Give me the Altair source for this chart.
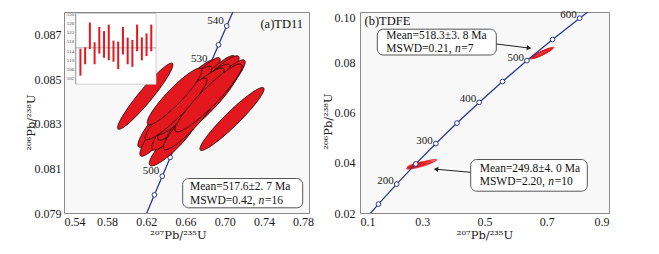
import altair as alt
import numpy as np
import pandas as pd

SERIF = "Liberation Serif"
TSERIF = "DejaVu Serif"
RED = "#e3171e"
NAVY = "#2c3a8c"

# ---------------- Panel (a) TD11 : 16 analyses (centre, half extents, correlation)
a_x = [0.6189, 0.7074, 0.6508, 0.6544, 0.6477, 0.6681, 0.6732, 0.6799,
       0.6697, 0.6554, 0.6641, 0.6783, 0.6503, 0.6646, 0.6834, 0.6488]
a_y = [0.08423, 0.08321, 0.08390, 0.08375, 0.08222, 0.08393, 0.08415, 0.08395,
       0.08424, 0.08437, 0.08399, 0.08377, 0.08366, 0.08310, 0.08415, 0.08422]
a_ex = [0.0282, 0.0327, 0.0394, 0.0410, 0.0247, 0.0426, 0.0415, 0.0410,
        0.0357, 0.0315, 0.0352, 0.0342, 0.0315, 0.0273, 0.0342, 0.0279]
a_ey = [0.00148, 0.00141, 0.00196, 0.00221, 0.00111, 0.00212, 0.00189, 0.00191,
        0.00143, 0.00120, 0.00150, 0.00150, 0.00138, 0.00127, 0.00152, 0.00127]
a_rho = [0.950, 0.950, 0.945, 0.952, 0.900, 0.944, 0.948, 0.948,
         0.940, 0.925, 0.930, 0.930, 0.935, 0.920, 0.932, 0.922]

# concordia (a): age (Ma), 207Pb/235U, 206Pb/238U
ca_age = [485, 490, 495, 500, 505, 510, 515, 520, 525, 530, 535, 540, 545, 550]
ca_x = [0.61228, 0.62025, 0.62824, 0.63628, 0.64436, 0.65248, 0.66063,
        0.66886, 0.67717, 0.68556, 0.69367, 0.70203, 0.71043, 0.71887]
ca_y = [0.078136, 0.078974, 0.079812, 0.080650, 0.081489, 0.082328, 0.083167,
        0.084007, 0.084848, 0.085689, 0.086531, 0.087373, 0.088216, 0.089060]
ca_marked = [495, 500, 505, 510, 515, 520, 525, 530, 535, 540]
ca_labelled = [500, 530, 540]

# inset: weighted mean ages (Ma)
ins_lo = [503.2, 508.1, 514.7, 508.1, 512.7, 510.9, 509.8, 509.2,
          506.0, 512.3, 508.1, 507.0, 513.7, 509.8, 511.6, 513.7]
ins_hi = [514.8, 515.4, 526.1, 517.6, 524.2, 522.4, 525.2, 518.3,
          517.9, 524.2, 519.6, 518.6, 525.2, 519.7, 521.4, 525.2]
ins_mean = 515.2
ins_ticks = [502, 506, 510, 514, 518, 522, 526, 530]

# ---------------- Panel (b) TDFE
b_x = [0.680, 0.684, 0.688, 0.676, 0.690, 0.682, 0.686,
       0.272, 0.278, 0.285, 0.300, 0.268, 0.292, 0.305, 0.276, 0.282, 0.295]
b_y = [0.0834, 0.0836, 0.0838, 0.0831, 0.0840, 0.0833, 0.0837,
       0.0386, 0.0389, 0.0391, 0.0396, 0.0384, 0.0393, 0.0398, 0.0392, 0.0387, 0.0390]
b_ex = [0.034, 0.032, 0.030, 0.028, 0.033, 0.026, 0.036,
        0.022, 0.020, 0.030, 0.045, 0.018, 0.035, 0.042, 0.024, 0.026, 0.038]
b_ey = [0.0021, 0.0019, 0.0018, 0.0017, 0.0020, 0.0016, 0.0022,
        0.0010, 0.0009, 0.0012, 0.0016, 0.0009, 0.0013, 0.0015, 0.0011, 0.0010, 0.0014]
b_rho = [0.92, 0.93, 0.92, 0.91, 0.94, 0.89, 0.94,
         0.82, 0.78, 0.86, 0.90, 0.78, 0.88, 0.91, 0.83, 0.84, 0.88]

cb_age = [100, 150, 200, 250, 300, 350, 400, 450, 500, 550, 600, 650]
cb_x = [0.10350, 0.15920, 0.21771, 0.27917, 0.34374, 0.41156,
        0.48281, 0.55766, 0.63628, 0.71887, 0.80563, 0.89677]
cb_y = [0.015633, 0.023542, 0.031511, 0.039543, 0.047637, 0.055795,
        0.064016, 0.072300, 0.080650, 0.089064, 0.097544, 0.106089]
cb_marked = [150, 200, 250, 300, 350, 400, 450, 500, 550, 600]
cb_labelled = [200, 300, 400, 500, 600]


def ellipse_table(cx, cy, ex, ey, rho, n=60):
    rows = []
    phi = np.linspace(0, np.pi, n)
    u = np.cos(phi)
    s = np.sqrt(np.clip(1 - u ** 2, 0, None))
    for i, (x0, y0, a, b, r) in enumerate(zip(cx, cy, ex, ey, rho)):
        q = np.sqrt(1 - r ** 2)
        for uu, ss in zip(u, s):
            rows.append({"id": i, "x": x0 + a * uu,
                         "ylo": y0 + b * (r * uu - q * ss),
                         "yhi": y0 + b * (r * uu + q * ss)})
    return pd.DataFrame(rows)


def conc_table(age, x, y):
    return pd.DataFrame({"age": age, "x": x, "y": y, "lab": [str(v) for v in age]})


FS = 11.5


def txt(s, x, y, size=FS, style="normal", align="left"):
    return alt.Chart(pd.DataFrame({"t": [s]})).mark_text(
        align=align, baseline="middle", font=SERIF, fontSize=size, fontStyle=style, color="#111").encode(
        x=alt.value(x), y=alt.value(y), text="t:N")


def stat_lines(x, y, line1, line2, n):
    # "MSWD=..., n=.." with an italic n
    return [txt(line1, x, y), txt(line2, x, y + 13.2),
            txt("n", x + 68.6, y + 13.2, style="italic"), txt("=" + n, x + 75.0, y + 13.2)]


def rbox(x0, x1, y0, y1):
    return alt.Chart(pd.DataFrame({"k": [0]})).mark_rect(
        fill="white", stroke="#555", strokeWidth=1, cornerRadius=6).encode(
        x=alt.value(x0), x2=alt.value(x1), y=alt.value(y0), y2=alt.value(y1))


# ======================= Panel (a)
xa = alt.Scale(domain=[0.536, 0.786], nice=False, zero=False)
ya = alt.Scale(domain=[0.079, 0.088], nice=False, zero=False)
axa_x = alt.Axis(values=[0.54, 0.58, 0.62, 0.66, 0.70, 0.74, 0.78], format=".2f",
                 title="²⁰⁷Pb/²³⁵U", labelFlush=4.5, labelFlushOffset=4,
                 labelPadding=3, titlePadding=2, titleX=114)
axa_y = alt.Axis(values=[0.079, 0.081, 0.083, 0.085, 0.087], format=".3f",
                 title="²⁰⁶Pb/²³⁸U", labelPadding=3, titlePadding=-2, titleY=110)
XA = lambda f: alt.X(f, scale=xa, axis=axa_x)
YA = lambda f: alt.Y(f, scale=ya, axis=axa_y)

conc_a = conc_table(ca_age, ca_x, ca_y)
line_a = alt.Chart(conc_a).mark_line(color=NAVY, strokeWidth=1.3, clip=True).encode(
    x=XA("x:Q"), y=YA("y:Q"), order="age:Q")
pts_a = alt.Chart(conc_a).transform_filter(
    alt.FieldOneOfPredicate(field="age", oneOf=ca_marked)).mark_point(
    shape="circle", size=22, filled=True, fill="white", stroke=NAVY, strokeWidth=1, opacity=1).encode(
    x=XA("x:Q"), y=YA("y:Q"))
lab_a = alt.Chart(conc_a).transform_filter(
    alt.FieldOneOfPredicate(field="age", oneOf=ca_labelled)).mark_text(
    align="right", baseline="middle", dx=-3, dy=-5, font=SERIF, fontSize=11, color="#222").encode(
    x=XA("x:Q"), y=YA("y:Q"), text="lab:N")
ell_a = alt.Chart(ellipse_table(a_x, a_y, a_ex, a_ey, a_rho)).mark_area(
    fill=RED, fillOpacity=1, stroke="#2b0708", strokeWidth=0.9).encode(
    x=XA("x:Q"), y=YA("yhi:Q"), y2="ylo:Q", detail="id:N")

ann_a = [rbox(118.7, 238.7, 166.5, 195.8),
         *stat_lines(126, 175.3, "Mean=517.6±2. 7 Ma", "MSWD=0.42,", "16"),
         txt("(a)TD11", 239, 12, size=12.5, align="right")]

main_a = alt.layer(line_a, pts_a, lab_a, ell_a, *ann_a)

# inset (independent scales placed in the top-left corner)
ix = alt.Scale(domain=[0, 17], range=[11.7, 92])
iy = alt.Scale(domain=[499.5, 530], range=[72.2, 1.5])
IX = lambda f: alt.X(f, scale=ix, axis=None)
IY = lambda f: alt.Y(f, scale=iy, axis=None)
ins_df = pd.DataFrame({"i": list(range(1, 17)), "lo": ins_lo, "hi": ins_hi})
ins_box = alt.Chart(pd.DataFrame({"x0": [0], "x1": [17], "y0": [499.5], "y1": [530]})).mark_rect(
    fill="white", stroke="#c4c4c4", strokeWidth=0.8).encode(
    x=IX("x0:Q"), x2="x1:Q", y=IY("y0:Q"), y2="y1:Q")
ins_mean_l = alt.Chart(pd.DataFrame({"x0": [0], "x1": [17], "m": [ins_mean]})).mark_rule(
    color="#9a9a9a", strokeWidth=0.8).encode(x=IX("x0:Q"), x2="x1:Q", y=IY("m:Q"))
ins_axis = alt.Chart(pd.DataFrame({"x0": [0], "y0": [499.5], "y1": [530]})).mark_rule(
    color="#8a8a8a", strokeWidth=0.8).encode(x=IX("x0:Q"), y=IY("y0:Q"), y2="y1:Q")
ins_bars = alt.Chart(ins_df).mark_rule(color=RED, strokeWidth=2).encode(
    x=IX("i:Q"), y=IY("lo:Q"), y2="hi:Q")
ins_lab = alt.Chart(pd.DataFrame({"x0": [0] * len(ins_ticks), "v": ins_ticks,
                                  "t": [str(v) for v in ins_ticks]})).mark_text(
    align="right", baseline="middle", dx=-1.5, font=SERIF, fontSize=5, color="#555").encode(
    x=IX("x0:Q"), y=IY("v:Q"), text="t:N")
inset = alt.layer(ins_box, ins_mean_l, ins_axis, ins_bars, ins_lab)

panel_a = alt.layer(main_a, inset).resolve_scale(x="independent", y="independent").properties(
    width=245, height=201)

# ======================= Panel (b)
xb = alt.Scale(domain=[0.1, 0.9], nice=False, zero=False)
yb = alt.Scale(domain=[0.02, 0.10], nice=False, zero=False)
axb_x = alt.Axis(values=[0.1, 0.3, 0.5, 0.7, 0.9], format=".1f", title="²⁰⁷Pb/²³⁵U",
                 labelFlush=True, labelPadding=3, titlePadding=2)
axb_y = alt.Axis(values=[0.02, 0.04, 0.06, 0.08, 0.10], format=".2f", title="²⁰⁶Pb/²³⁸U",
                 labelPadding=5, titlePadding=1, titleY=109,
                 labelOffset={"condition": {"test": "datum.value > 0.099", "value": 5}, "value": 0})
XB = lambda f: alt.X(f, scale=xb, axis=axb_x)
YB = lambda f: alt.Y(f, scale=yb, axis=axb_y)

conc_b = conc_table(cb_age, cb_x, cb_y)
ell_b = alt.Chart(ellipse_table(b_x, b_y, b_ex, b_ey, b_rho)).mark_area(
    fill=RED, fillOpacity=0.22, stroke=RED, strokeWidth=0.7).encode(
    x=XB("x:Q"), y=YB("yhi:Q"), y2="ylo:Q", detail="id:N")
line_b = alt.Chart(conc_b).mark_line(color=NAVY, strokeWidth=1.3, clip=True).encode(
    x=XB("x:Q"), y=YB("y:Q"), order="age:Q")
pts_b = alt.Chart(conc_b).transform_filter(
    alt.FieldOneOfPredicate(field="age", oneOf=cb_marked)).mark_point(
    shape="circle", size=22, filled=True, fill="white", stroke=NAVY, strokeWidth=1, opacity=1).encode(
    x=XB("x:Q"), y=YB("y:Q"))
lab_b = alt.Chart(conc_b).transform_filter(
    alt.FieldOneOfPredicate(field="age", oneOf=cb_labelled)).mark_text(
    align="right", baseline="middle", dx=-3, dy=-3, font=SERIF, fontSize=11, color="#222").encode(
    x=XB("x:Q"), y=YB("y:Q"), text="lab:N")

arr1 = alt.Chart(pd.DataFrame({"k": [0]})).mark_rule(color="#222", strokeWidth=1).encode(
    x=alt.value(136.3), x2=alt.value(168), y=alt.value(32), y2=alt.value(35.9))
head1 = alt.Chart(pd.DataFrame({"k": [0]})).mark_point(
    shape="triangle-right", size=28, filled=True, color="#222", opacity=1, angle=7).encode(
    x=alt.value(169), y=alt.value(36))
arr2 = alt.Chart(pd.DataFrame({"k": [0]})).mark_rule(color="#222", strokeWidth=1).encode(
    x=alt.value(110.7), x2=alt.value(77), y=alt.value(160.3), y2=alt.value(157.3))
head2 = alt.Chart(pd.DataFrame({"k": [0]})).mark_point(
    shape="triangle-left", size=28, filled=True, color="#222", opacity=1, angle=5).encode(
    x=alt.value(76), y=alt.value(157.2))

ann_b = [rbox(17.3, 136.3, 17.2, 43), arr1, head1,
         *stat_lines(26.3, 23.5, "Mean=518.3±3. 8 Ma", "MSWD=0.21,", "7"),
         rbox(110.7, 227.3, 147.5, 179.2), arr2, head2,
         *stat_lines(119.7, 157, "Mean=249.8±4. 0 Ma", "MSWD=2.20,", "10"),
         txt("(b)TDFE", 4.5, 9, size=12.5)]

panel_b = alt.layer(ell_b, line_b, pts_b, lab_b, *ann_b).properties(width=249, height=201)

chart = alt.hconcat(panel_a, panel_b, spacing=6).properties(
    padding={"left": 16, "top": 0, "right": 0, "bottom": 0}
).configure_view(fill="#f8f8f8", stroke="#8a8a8a", strokeWidth=1).configure_axis(
    grid=False, ticks=False, tickSize=0, domain=False,
    labelFont=SERIF, labelFontSize=12, labelColor="#1a1a1a",
    titleFont=TSERIF, titleFontSize=11.5, titleFontWeight="normal", titleColor="#1a1a1a")

chart.save("out.html", embed_options={"renderer": "svg", "actions": False})
